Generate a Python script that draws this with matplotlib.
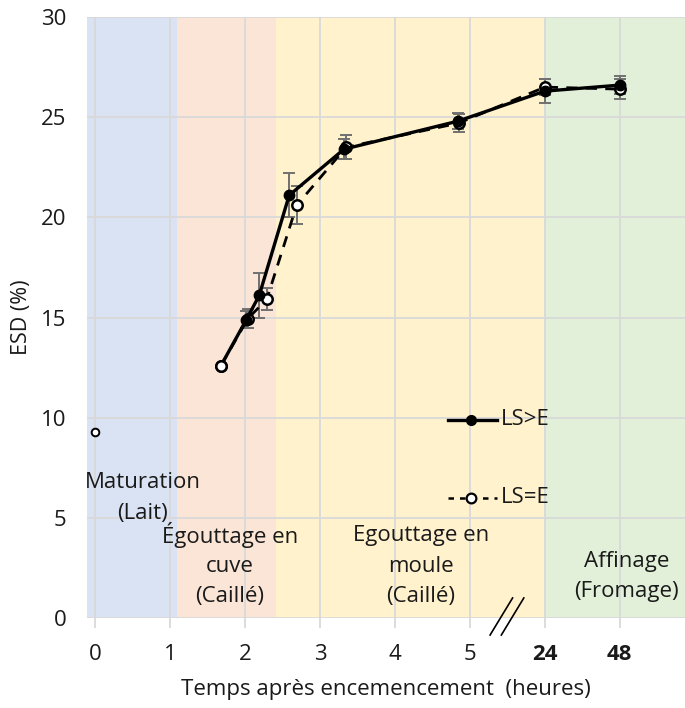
import matplotlib
matplotlib.use("Agg")
import matplotlib.pyplot as plt
from matplotlib.patches import Rectangle

plt.rcParams['font.family'] = ['Open Sans', 'DejaVu Sans']

# Data (x in axis position units: 0-5 hours linear, 24 h -> 6, 48 h -> 7)
x_ls_gt = [1.68, 2.02, 2.19, 2.59, 3.32, 4.84, 6.0, 7.0]
y_ls_gt = [12.6, 14.9, 16.1, 21.1, 23.4, 24.8, 26.3, 26.6]
e_ls_gt = [0.0, 0.4, 1.1, 1.1, 0.5, 0.4, 0.6, 0.45]

x_ls_eq = [1.68, 2.04, 2.29, 2.69, 3.35, 4.85, 6.0, 7.0]
y_ls_eq = [12.6, 14.95, 15.9, 20.6, 23.5, 24.7, 26.5, 26.4]
e_ls_eq = [0.0, 0.45, 0.55, 0.95, 0.6, 0.45, 0.4, 0.5]

x_milk = [0.0]
y_milk = [9.3]

tick_pos = [0, 1, 2, 3, 4, 5, 6, 7]
tick_labels = ['0', '1', '2', '3', '4', '5', '24', '48']

bands = [(-0.2, 1.1, '#dae3f3'), (1.1, 2.42, '#fbe5d6'),
         (2.42, 5.99, '#fff2cc'), (5.99, 8.0, '#e2f0d9')]

# phase labels: (x centre, [lines], [line y centres])
phase_x = [0.64, 1.80, 4.35, 7.09]
phase_lines = [['Maturation', '(Lait)'],
               ['Égouttage en', 'cuve', '(Caillé)'],
               ['Egouttage en', 'moule', '(Caillé)'],
               ['Affinage', '(Fromage)']]
phase_line_y = [[6.75, 5.2], [4.14, 2.55, 1.05], [4.14, 2.55, 1.05], [2.8, 1.3]]

fig = plt.figure(figsize=(6.85, 7.08), dpi=100)
ax = fig.add_axes([87/685, 1 - 618/708, 598/685, 601/708])

xmin, xmax = -0.107, 7.87
ax.set_xlim(xmin, xmax)
ax.set_ylim(0, 30)

for a, b, c in bands:
    ax.axvspan(a, b, color=c, zorder=0, lw=0)

grid_c = '#d9d9d9'
for t in tick_pos:
    ax.axvline(t, color=grid_c, lw=1.3, zorder=1)
for yv in range(0, 31, 5):
    ax.axhline(yv, color=grid_c, lw=1.3, zorder=1)

for s in ax.spines.values():
    s.set_visible(False)

txt_c = '#1a1a1a'
ax.set_xticks(tick_pos)
ax.set_xticklabels(tick_labels, fontsize=16)
for lbl in ax.get_xticklabels()[6:]:
    lbl.set_fontweight('bold')
ax.set_yticks(range(0, 31, 5))
ax.tick_params(axis='both', labelsize=16, color=grid_c, length=7, width=1.3,
               labelcolor=txt_c)
ax.tick_params(axis='x', pad=12)
ax.tick_params(axis='y', length=0, pad=15)

ax.set_ylabel('ESD (%)', fontsize=15.5, labelpad=6, color=txt_c)
ax.set_xlabel('Temps après encemencement  (heures)', fontsize=16, labelpad=10,
              color=txt_c)

# Error bars
ax.errorbar(x_ls_gt, y_ls_gt, yerr=e_ls_gt, fmt='none', ecolor='#707070',
            elinewidth=1.4, capsize=4, capthick=1.4, zorder=3)
ax.errorbar(x_ls_eq, y_ls_eq, yerr=e_ls_eq, fmt='none', ecolor='#707070',
            elinewidth=1.4, capsize=4, capthick=1.4, zorder=3)

ax.plot(x_ls_eq, y_ls_eq, color='black', lw=2.0, ls=(0, (4, 3)), marker='o',
        ms=7.5, mfc='white', mec='black', mew=1.8, zorder=4)
ax.plot(x_ls_gt, y_ls_gt, color='black', lw=2.4, marker='o', ms=7.5,
        mfc='black', mec='black', zorder=5)
# shared starting point drawn open
ax.plot(x_ls_eq[:1], y_ls_eq[:1], ls='none', marker='o', ms=7.5, mfc='white',
        mec='black', mew=1.8, zorder=6)
ax.plot(x_milk, y_milk, ls='none', marker='o', ms=5.5, mfc='white', mec='black',
        mew=1.4, zorder=6)

# Legend drawn in data space
ax.plot([4.71, 5.36], [9.9, 9.9], color='black', lw=2.4, zorder=5)
ax.plot([5.02], [9.9], marker='o', ms=7, mfc='black', mec='black', zorder=6)
ax.text(5.42, 9.9, 'LS>E', fontsize=16, va='center', ha='left', color=txt_c, zorder=7)
ax.plot([4.71, 5.36], [6.0, 6.0], color='black', lw=1.8, ls=(0, (2.2, 2.4)), zorder=5)
ax.plot([5.02], [6.0], marker='o', ms=7, mfc='white', mec='black', mew=1.6, zorder=6)
ax.text(5.42, 6.0, 'LS=E', fontsize=16, va='center', ha='left', color=txt_c, zorder=7)

clip_rect = Rectangle((-1, 4.85), 20, 40, transform=ax.transData)
for xp, lines, ys in zip(phase_x, phase_lines, phase_line_y):
    for line, yp in zip(lines, ys):
        t = ax.text(xp, yp, line, fontsize=16, ha='center', va='center',
                    color=txt_c, zorder=7)
        if line == '(Lait)':
            t.set_clip_path(clip_rect)

# axis break marks
ax.plot([5.27, 5.57], [-0.85, 1.0], color='black', lw=1.2, clip_on=False, zorder=8)
ax.plot([5.42, 5.72], [-0.85, 1.0], color='black', lw=1.2, clip_on=False, zorder=8)

fig.savefig('out.png', dpi=100)
